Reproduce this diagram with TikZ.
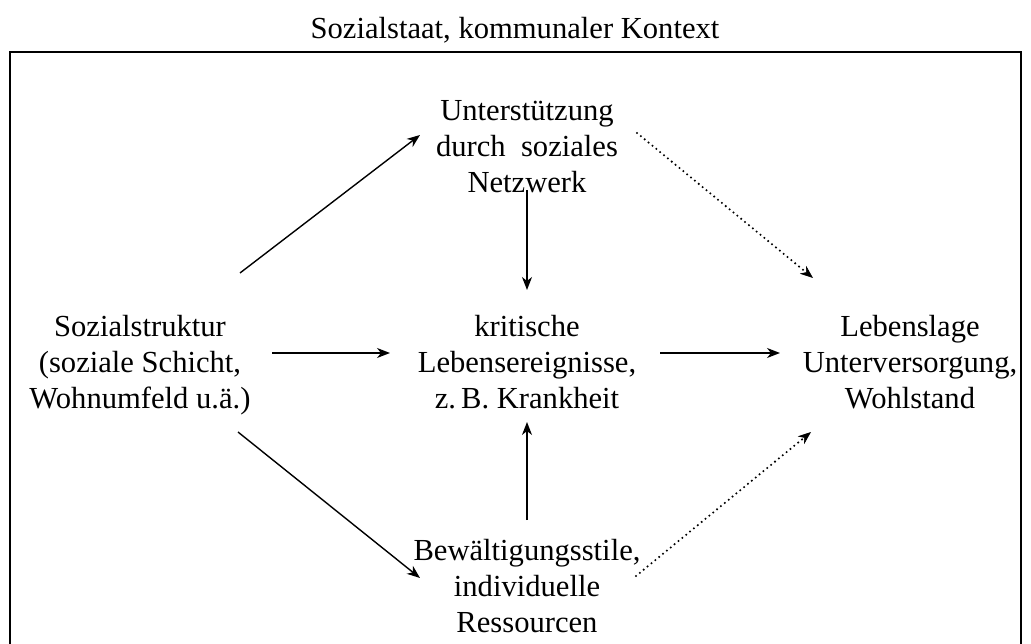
\documentclass[tikz,border=0pt]{standalone}
\usepackage{fontspec}
\setmainfont{Liberation Serif}
\usetikzlibrary{calc,arrows.meta}
\begin{document}
\begin{tikzpicture}[x=1pt,y=-1pt,
  txt/.style={align=center,font=\fontsize{30.6}{36}\selectfont,inner sep=0pt},
  arr/.style={line width=1.4pt,-{Stealth[length=13pt,width=10pt,inset=4pt]}},
  dotarr/.style={line width=2.3pt,line cap=round,dash pattern=on 0pt off 5pt,-{Stealth[length=13pt,width=10pt,inset=4pt,line width=0.6pt]}},
  frame/.style={line width=1.4pt}]
\useasboundingbox (0,0) rectangle (1031,644);
\node[txt] (title) at (515,30) {Sozialstaat, kommunaler Kontext};
\draw[frame] (10,700) -- (10,52) -- (1021,52) -- (1021,700);
\node[txt] (t) at (527,147) {Unterstützung\\durch\ \ soziales\\Netzwerk};
\node[txt] (l) at (140,365) {Sozialstruktur\\(soziale Schicht,\\Wohnumfeld u.ä.)};
\node[txt] (c) at (527,362) {kritische\\Lebensereignisse,\\z.\,B. Krankheit};
\node[txt] (r) at (910,362) {Lebenslage\\Unterversorgung,\\Wohlstand};
\node[txt] (b) at (527,586) {Bewältigungsstile,\\individuelle\\Ressourcen};
\draw[arr] ($(l.center)+(100,-92)$) -- ($(t.center)+(-107,-12)$);
\draw[arr] ($(t.center)+(0,43)$) -- ($(c.center)+(0,-72)$);
\draw[arr] ($(l.center)+(132,-12)$) -- ($(c.center)+(-137,-9)$);
\draw[arr] ($(c.center)+(133,-9)$) -- ($(r.center)+(-130,-9)$);
\draw[arr] ($(l.center)+(98,67)$) -- ($(b.center)+(-107,-8)$);
\draw[arr] ($(b.center)+(0,-66)$) -- ($(c.center)+(0,60)$);
\draw[dotarr] ($(t.center)+(110,-14)$) -- ($(r.center)+(-97,-84)$);
\draw[dotarr] ($(b.center)+(109,-10)$) -- ($(r.center)+(-99,70)$);
\end{tikzpicture}
\end{document}
